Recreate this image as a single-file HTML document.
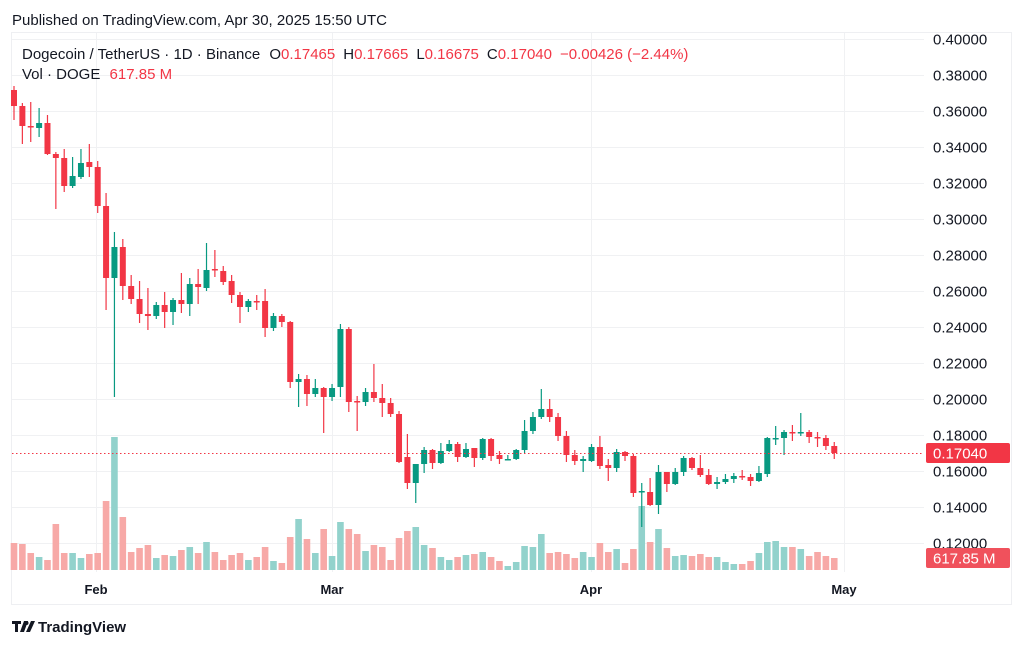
<!DOCTYPE html>
<html><head><meta charset="utf-8"><style>
html,body{margin:0;padding:0;background:#fff;width:1024px;height:646px;overflow:hidden}
svg{display:block}
text{font-family:"Liberation Sans",sans-serif}
</style></head><body>
<svg id="s" width="1024" height="646" viewBox="0 0 1024 646" xmlns="http://www.w3.org/2000/svg">
<rect x="0" y="0" width="1024" height="646" fill="#fff"/>
<text x="12" y="25" font-size="15" fill="#131722">Published on TradingView.com, Apr 30, 2025 15:50 UTC</text>
<rect x="11.5" y="32.5" width="1000" height="572" fill="none" stroke="#eeeff2"/>
<g id="grid" stroke="#f0f1f3" stroke-width="1"></g>
<g id="vol"></g>
<g id="cdl"></g>
<line x1="12" y1="453.5" x2="924" y2="453.5" stroke="#f23645" stroke-width="1" stroke-dasharray="1.5 2.5"/>
<g id="ax" font-size="15" fill="#131722"></g>
<rect x="926" y="443" width="84" height="20" rx="2" fill="#f23645"/>
<text x="933" y="458.5" font-size="15" fill="#fff">0.17040</text>
<rect x="926" y="548" width="84" height="20" rx="2" fill="#f0515c"/>
<text x="933" y="563.5" font-size="15" fill="#fff">617.85 M</text>
<g font-size="13" font-weight="bold" fill="#131722" text-anchor="middle">
<text x="96" y="594">Feb</text><text x="332" y="594">Mar</text><text x="591" y="594">Apr</text><text x="844" y="594">May</text>
</g>
<text x="22" y="59" font-size="15" fill="#131722">Dogecoin / TetherUS · 1D · Binance <tspan dx="5">O</tspan><tspan fill="#f23645">0.17465</tspan><tspan dx="8">H</tspan><tspan fill="#f23645">0.17665</tspan><tspan dx="8">L</tspan><tspan fill="#f23645">0.16675</tspan><tspan dx="8">C</tspan><tspan fill="#f23645">0.17040</tspan><tspan dx="8" fill="#f23645">−0.00426 (−2.44%)</tspan></text>
<text x="22" y="79" font-size="15" fill="#131722">Vol · DOGE <tspan dx="5" fill="#f23645">617.85 M</tspan></text>
<g transform="translate(12,619)">
<path d="M0 2h9v3H6v8H3V5H0z M12 2h4l-4 11H8z" fill="#131722"/>
<circle cx="14.5" cy="4" r="2" fill="#131722"/>
<path d="M14 13l5-11h4l-5 11z" fill="#131722"/>
</g>
<text x="38" y="632" font-size="15" font-weight="bold" fill="#131722">TradingView</text>
</svg>
<script>
var NS="http://www.w3.org/2000/svg";
function el(p,t,a){var e=document.createElementNS(NS,t);for(var k in a)e.setAttribute(k,a[k]);p.appendChild(e);return e;}
var g=document.getElementById('grid'),ax=document.getElementById('ax');
for(var i=0;i<15;i++){var p=0.40-i*0.02;var y=39+(0.40-p)*1800;
 el(g,'line',{x1:12,y1:y+0.5,x2:924,y2:y+0.5});
 if(p>0.119){var t=el(ax,'text',{x:933,y:y+5.5});t.textContent=p.toFixed(5);}}
[96,332,591,844].forEach(function(x){el(g,'line',{x1:x+0.5,y1:33,x2:x+0.5,y2:572});});
var C=[[90,106,86,120],[106,126,103,144],[126,127,102,142],[128,123,108,137],[123,154,115,155],[154,158,152,209],[158,186,149,192],[186,176,157,188],[177,163,149,179],[162,167,144,177],[167,206,161,213],[206,278,193,310],[278,247,232,397],[247,286,239,300],[286,299,275,304],[299,314,281,323],[314,316,288,330],[316,305,302,319],[305,312,292,328],[312,300,298,325],[300,304,273,313],[304,284,278,316],[284,287,269,304],[288,270,243,291],[269,270,250,277],[271,282,266,285],[281,295,275,303],[295,307,292,323],[307,301,299,312],[301,302,295,310],[301,328,289,337],[328,316,313,331],[316,322,314,327],[322,382,321,388],[382,379,374,407],[379,394,375,406],[394,388,379,397],[388,397,387,433],[397,388,384,401],[387,329,324,397],[329,402,327,412],[401,402,396,431],[402,392,388,406],[392,398,364,402],[398,403,384,417],[403,414,398,417],[414,462,411,463],[457,483,434,489],[483,464,464,503],[464,450,447,473],[450,463,449,469],[463,451,443,464],[451,444,440,452],[444,457,442,462],[457,449,443,458],[448,458,448,467],[458,439,438,460],[439,456,438,461],[455,459,451,464],[459.5,459,455,460],[459,450,449,460],[450,431,420,453],[431,417,412,434],[417,409,389,419],[409,417,399,422],[417,436,413,441],[436,455,431,462],[455,461,450,465],[461,459,456,472],[461,447,444,462],[447,466,436,469],[465,468,459,481],[468,452,449,472],[452,456,451,461],[456,493,454,497],[492,491,483,527],[492,505,478,506],[505,472,465,514],[472,484,472,492],[484,472,468,485],[472,458,456,476],[458,468,457,470],[468,475,455,477],[475,484,469,485],[484,482,477,489],[482,479,474,484],[479,476,473,483],[476,477,470,480],[477,481,474,486],[481,473,466,482],[474,438,437,477],[438.5,438,426,445],[438,432,430,455],[432,433,425,441],[433,432,413,436],[432,437,430,443],[437,438,432,447],[438,446,435,450],[446,453,442,459]];
var V=[543,544,553,557,560,524,553,553,558,554,553,501,437,517,552,548,545,558,555,556,550,547,553,542,552,560,555,553,560,557,547,561,563,537,519,539,553,529,556,522,529,534,551,545,547,560,538,531,527,545,548,557,560,557,555,554,552,557,561,566,562,546,547,534,553,552,554,558,552,557,543,552,549,563,549,506,542,529,548,556,555,556,554,557,557,562,564,564,561,553,542,541,547,547,549,556,552,556,558];
var cg=document.getElementById('cdl'),vg=document.getElementById('vol');
C.forEach(function(c,i){var x=14+i*8.37;var up=c[1]<=c[0];
 var col=up?'#089981':'#f23645';
 el(vg,'rect',{x:x-3.3,y:V[i],width:6.6,height:570-V[i],fill:up?'#92d2cc':'#f7a9a7'});
 el(cg,'line',{x1:x,y1:c[2],x2:x,y2:c[3],stroke:col,'stroke-width':1.2});
 var t=Math.min(c[0],c[1]),h=Math.max(Math.abs(c[1]-c[0]),1.5);
 el(cg,'rect',{x:x-3,y:t,width:6,height:h,fill:col});
});
</script>
</body></html>
